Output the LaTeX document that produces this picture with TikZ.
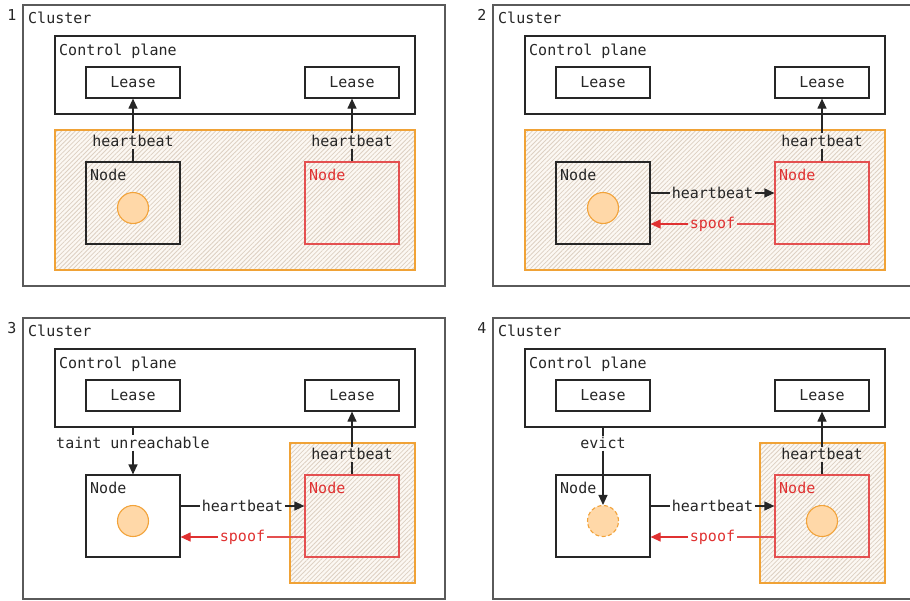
\documentclass[tikz,border=0pt]{standalone}
\usepackage{fontspec}
\setmonofont{DejaVu Sans Mono}
\usetikzlibrary{arrows.meta,patterns.meta}

\definecolor{ink}{HTML}{262626}
\definecolor{frame}{HTML}{5A5A5A}
\definecolor{warn}{HTML}{E03131}
\definecolor{warnline}{HTML}{E45050}
\definecolor{zoneline}{HTML}{F0A236}
\definecolor{zonefill}{HTML}{FCF8F3}
\definecolor{hatch}{HTML}{DDD0C2}
\definecolor{podfill}{HTML}{FFD8A8}
\definecolor{podline}{HTML}{F2A33A}

\tikzset{
  txt/.style={font=\ttfamily\fontsize{15}{18}\selectfont, text=ink, inner sep=0pt},
  cluster/.style={draw=frame, line width=1.4pt, minimum width=422pt, minimum height=281pt},
  plane/.style={draw=ink, line width=1.2pt, minimum width=360pt, minimum height=78pt},
  lease/.style={draw=ink, line width=1.2pt, minimum width=94pt, minimum height=31pt, txt, inner sep=0pt},
  host/.style={draw=ink, line width=1.2pt, minimum width=94pt, minimum height=82pt},
  rogue/.style={draw=warnline, line width=1.2pt, minimum width=94pt, minimum height=82pt},
  zone/.style={draw=zoneline, line width=1.3pt,
    preaction={fill=zonefill},
    pattern={Lines[angle=45,distance=3.2pt,line width=0.8pt]}, pattern color=hatch},
  pod/.style={circle, draw=podline, fill=podfill, line width=1.1pt, minimum size=31pt, inner sep=0pt},
  evicted/.style={pod, dash pattern=on 4pt off 2.5pt},
  tag/.style={txt, inner sep=1.5pt},
  redtag/.style={tag, text=warn},
  link/.style={draw=ink, line width=1.2pt},
  arrowlink/.style={link, -{Triangle[length=10pt,width=9pt]}},
  spoofline/.style={draw=warnline, line width=1.2pt},
  spoofarrow/.style={draw=warn, line width=1.2pt, -{Triangle[length=10pt,width=9pt]}},
}

\begin{document}
\begin{tikzpicture}[x=1pt,y=-1pt]
\useasboundingbox (0,0) rectangle (910,600);
\clip (0,0) rectangle (910,600);
\fill[white] (0,0) rectangle (910,600);

% ---------- 1: both nodes renew their own lease ----------
\begin{scope}
  \node[txt, anchor=base] (a-num) at (12,20) {1};
  \node[cluster] (a-cl) at (234,145.5) {};
  \node[txt, anchor=base west] (a-cltxt) at (28,23.5) {Cluster};
  \node[plane] (a-cp) at (235,75) {};
  \node[txt, anchor=base west] (a-cptxt) at (59,55) {Control plane};
  \node[lease] (a-l1) at (133,82.5) {Lease};
  \node[lease] (a-l2) at (352,82.5) {Lease};
  \node[zone, minimum width=360pt, minimum height=140pt] (a-zone) at (235,200) {};
  \node[host] (a-n1) at (133,203) {};
  \node[rogue] (a-n2) at (352,203) {};
  \node[txt, anchor=base west] (a-n1txt) at (90,180) {Node};
  \node[txt, anchor=base west, text=warn] (a-n2txt) at (309,180) {Node};
  \node[pod] (a-p1) at (133,208) {};
  \node[tag] (a-h1) at (133,141) {heartbeat};
  \node[tag] (a-h2) at (352,141) {heartbeat};
  \draw[link] (a-n1) -- (a-h1);
  \draw[arrowlink] (a-h1) -- (a-l1);
  \draw[link] (a-n2) -- (a-h2);
  \draw[arrowlink] (a-h2) -- (a-l2);
\end{scope}

% ---------- 2: the rogue node relays heartbeats ----------
\begin{scope}[shift={(470,0)}]
  \node[txt, anchor=base] (b-num) at (12,20) {2};
  \node[cluster] (b-cl) at (234,145.5) {};
  \node[txt, anchor=base west] (b-cltxt) at (28,23.5) {Cluster};
  \node[plane] (b-cp) at (235,75) {};
  \node[txt, anchor=base west] (b-cptxt) at (59,55) {Control plane};
  \node[lease] (b-l1) at (133,82.5) {Lease};
  \node[lease] (b-l2) at (352,82.5) {Lease};
  \node[zone, minimum width=360pt, minimum height=140pt] (b-zone) at (235,200) {};
  \node[host] (b-n1) at (133,203) {};
  \node[rogue] (b-n2) at (352,203) {};
  \node[txt, anchor=base west] (b-n1txt) at (90,180) {Node};
  \node[txt, anchor=base west, text=warn] (b-n2txt) at (309,180) {Node};
  \node[pod] (b-p1) at (133,208) {};
  \node[tag] (b-h2) at (352,141) {heartbeat};
  \draw[link] (b-n2) -- (b-h2);
  \draw[arrowlink] (b-h2) -- (b-l2);
  \path ([yshift=10pt]b-n1.east) -- node[tag] (b-hb) {heartbeat} ([yshift=10pt]b-n2.west);
  \draw[link] ([yshift=10pt]b-n1.east) -- (b-hb);
  \draw[arrowlink] (b-hb) -- ([yshift=10pt]b-n2.west);
  \path ([yshift=-21pt]b-n2.west) -- node[redtag] (b-sp) {spoof} ([yshift=-21pt]b-n1.east);
  \draw[spoofline] ([yshift=-21pt]b-n2.west) -- (b-sp);
  \draw[spoofarrow] (b-sp) -- ([yshift=-21pt]b-n1.east);
\end{scope}

% ---------- 3: the silent node is tainted ----------
\begin{scope}[shift={(0,313)}]
  \node[txt, anchor=base] (c-num) at (12,20) {3};
  \node[cluster] (c-cl) at (234,145.5) {};
  \node[txt, anchor=base west] (c-cltxt) at (28,23.5) {Cluster};
  \node[plane] (c-cp) at (235,75) {};
  \node[txt, anchor=base west] (c-cptxt) at (59,55) {Control plane};
  \node[lease] (c-l1) at (133,82.5) {Lease};
  \node[lease] (c-l2) at (352,82.5) {Lease};
  \node[zone, minimum width=125pt, minimum height=140pt] (c-zone) at (352.5,200) {};
  \node[host] (c-n1) at (133,203) {};
  \node[rogue] (c-n2) at (352,203) {};
  \node[txt, anchor=base west] (c-n1txt) at (90,180) {Node};
  \node[txt, anchor=base west, text=warn] (c-n2txt) at (309,180) {Node};
  \node[pod] (c-p1) at (133,208) {};
  \node[tag] (c-t) at (133,130) {taint unreachable};
  \coordinate (c-from) at (c-cp.south -| c-l1.south);
  \draw[link] (c-from) -- (c-t);
  \draw[arrowlink] (c-t) -- (c-n1);
  \node[tag] (c-h2) at (352,141) {heartbeat};
  \draw[link] (c-n2) -- (c-h2);
  \draw[arrowlink] (c-h2) -- (c-l2);
  \path ([yshift=10pt]c-n1.east) -- node[tag] (c-hb) {heartbeat} ([yshift=10pt]c-n2.west);
  \draw[link] ([yshift=10pt]c-n1.east) -- (c-hb);
  \draw[arrowlink] (c-hb) -- ([yshift=10pt]c-n2.west);
  \path ([yshift=-21pt]c-n2.west) -- node[redtag] (c-sp) {spoof} ([yshift=-21pt]c-n1.east);
  \draw[spoofline] ([yshift=-21pt]c-n2.west) -- (c-sp);
  \draw[spoofarrow] (c-sp) -- ([yshift=-21pt]c-n1.east);
\end{scope}

% ---------- 4: the pod is evicted and moves ----------
\begin{scope}[shift={(470,313)}]
  \node[txt, anchor=base] (d-num) at (12,20) {4};
  \node[cluster] (d-cl) at (234,145.5) {};
  \node[txt, anchor=base west] (d-cltxt) at (28,23.5) {Cluster};
  \node[plane] (d-cp) at (235,75) {};
  \node[txt, anchor=base west] (d-cptxt) at (59,55) {Control plane};
  \node[lease] (d-l1) at (133,82.5) {Lease};
  \node[lease] (d-l2) at (352,82.5) {Lease};
  \node[zone, minimum width=125pt, minimum height=140pt] (d-zone) at (352.5,200) {};
  \node[host] (d-n1) at (133,203) {};
  \node[rogue] (d-n2) at (352,203) {};
  \node[txt, anchor=base west] (d-n1txt) at (90,180) {Node};
  \node[txt, anchor=base west, text=warn] (d-n2txt) at (309,180) {Node};
  \node[evicted] (d-p1) at (133,208) {};
  \node[pod] (d-p2) at (352,208) {};
  \node[tag] (d-e) at (133,130) {evict};
  \coordinate (d-from) at (d-cp.south -| d-l1.south);
  \draw[link] (d-from) -- (d-e);
  \draw[arrowlink] (d-e) -- (d-p1.north);
  \node[tag] (d-h2) at (352,141) {heartbeat};
  \draw[link] (d-n2) -- (d-h2);
  \draw[arrowlink] (d-h2) -- (d-l2);
  \path ([yshift=10pt]d-n1.east) -- node[tag] (d-hb) {heartbeat} ([yshift=10pt]d-n2.west);
  \draw[link] ([yshift=10pt]d-n1.east) -- (d-hb);
  \draw[arrowlink] (d-hb) -- ([yshift=10pt]d-n2.west);
  \path ([yshift=-21pt]d-n2.west) -- node[redtag] (d-sp) {spoof} ([yshift=-21pt]d-n1.east);
  \draw[spoofline] ([yshift=-21pt]d-n2.west) -- (d-sp);
  \draw[spoofarrow] (d-sp) -- ([yshift=-21pt]d-n1.east);
\end{scope}
\end{tikzpicture}
\end{document}
